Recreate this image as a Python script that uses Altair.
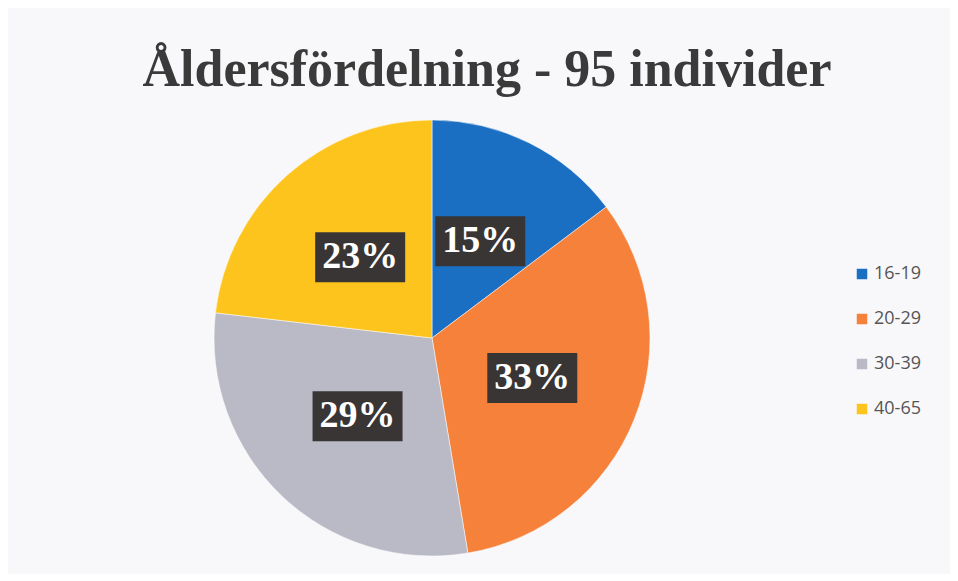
import altair as alt
import pandas as pd

# ---- data ----
groups = ["16-19", "20-29", "30-39", "40-65"]
counts = [14, 31, 28, 22]          # 95 individuals -> 15%, 33%, 29%, 23%
order = [0, 1, 2, 3]
colors = ["#1b6fc3", "#f6813a", "#b9bac6", "#fcc41d"]

df = pd.DataFrame({"group": groups, "count": counts, "order": order})

# ---- layout constants ----
W = 942
PAD_TOP = 36
T_EST = 54            # estimated title block height
PLOT_TOP = 8 + PAD_TOP + T_EST
H = 565 - PAD_TOP - T_EST
CX_PX = 424           # pie centre, plot px
CY_TOP = 337 - PLOT_TOP
R = 218
LR = 108

xs = alt.Scale(domain=[-CX_PX, W - CX_PX], nice=False, zero=False)
ys = alt.Scale(domain=[-(H - CY_TOP), CY_TOP], nice=False, zero=False)

base = (
    alt.Chart(df)
    .transform_joinaggregate(total="sum(count)")
    .transform_window(cum="sum(count)", sort=[alt.SortField("order")])
    .transform_calculate(
        mid="2*PI*(datum.cum - datum.count/2)/datum.total",
        label="round(100*datum.count/datum.total) + '%'",
    )
    .transform_calculate(
        lx=f"{LR}*sin(datum.mid)",
        ly=f"{LR}*cos(datum.mid)",
    )
)

pie = base.mark_arc(radius=R, stroke="#ffffff", strokeWidth=0.5).encode(
    theta=alt.Theta("count:Q", stack=True),
    order=alt.Order("order:Q"),
    color=alt.Color(
        "group:N",
        scale=alt.Scale(domain=groups, range=colors),
        legend=alt.Legend(
            title=None,
            orient="none",
            legendX=845,
            legendY=264 - PLOT_TOP,
            symbolType="square",
            symbolSize=110,
            symbolStrokeWidth=0,
            labelFont="Open Sans",
            labelFontSize=18,
            labelColor="#555555",
            rowPadding=27,
            labelOffset=3,
            padding=0,
        ),
    ),
    x=alt.XDatum(0, scale=xs, axis=None),
    y=alt.YDatum(0, scale=ys, axis=None),
)

boxes = base.mark_rect(width=90, height=50, color="#3a3535").encode(
    x=alt.X("lx:Q", scale=xs, axis=None),
    y=alt.Y("ly:Q", scale=ys, axis=None),
)

labels = base.mark_text(
    font="Liberation Serif", fontWeight="bold", fontSize=38, color="#ffffff", baseline="middle"
).encode(
    x=alt.X("lx:Q", scale=xs, axis=None),
    y=alt.Y("ly:Q", scale=ys, axis=None),
    text="label:N",
)

chart = (
    alt.layer(pie, boxes, labels)
    .properties(
        width=W,
        height=H,
        padding={"left": 0, "right": 0, "top": PAD_TOP, "bottom": 0},
        background="#f8f8fb",
        title=alt.TitleParams(
            "Åldersfördelning - 95 individer",
            font="Liberation Serif",
            fontSize=52,
            fontWeight="bold",
            color="#3a3a3a",
            anchor="middle",
            dx=8,
            offset=2,
        ),
    )
    .configure_view(stroke=None)
)

chart.save("out.html", embed_options={"renderer": "svg", "actions": False})
